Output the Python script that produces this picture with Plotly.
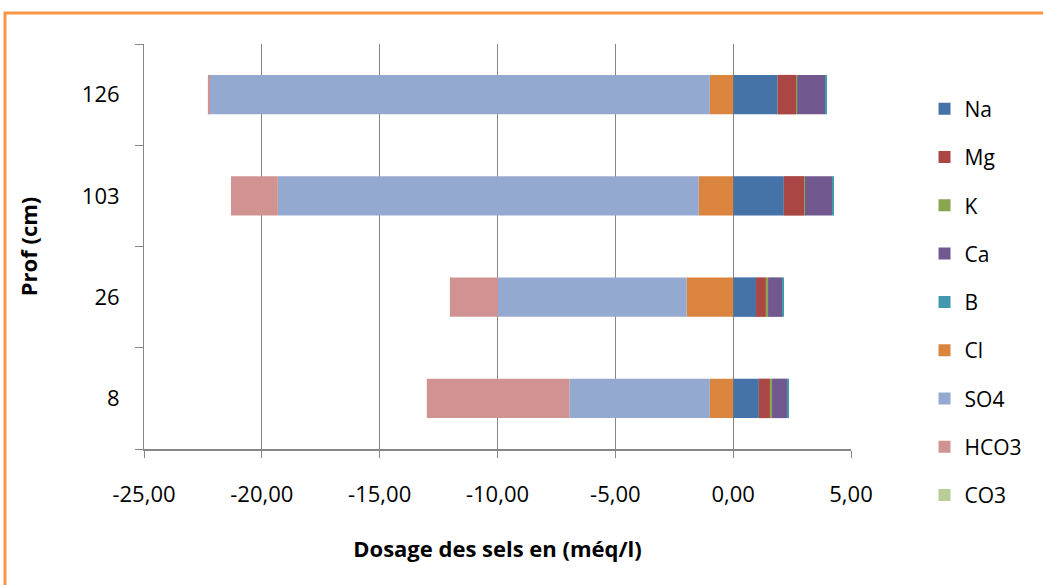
import plotly.graph_objects as go

depths = ["8", "26", "103", "126"]

Na = [1.09, 0.97, 2.15, 1.89]
Mg = [0.47, 0.42, 0.86, 0.78]
K = [0.09, 0.09, 0.04, 0.05]
Ca = [0.64, 0.60, 1.15, 1.19]
B = [0.04, 0.04, 0.04, 0.04]
Cl = [-0.99, -1.97, -1.46, -0.99]
SO4 = [-5.96, -8.01, -17.86, -21.21]
HCO3 = [-6.05, -2.04, -1.99, -0.09]
CO3 = [0.0, 0.0, 0.0, 0.0]

series_names = ["Na", "Mg", "K", "Ca", "B", "Cl", "SO4", "HCO3", "CO3"]
series_values = [Na, Mg, K, Ca, B, Cl, SO4, HCO3, CO3]
colors = ["#4572A7", "#AA4643", "#89A54E", "#71588F", "#4198AF",
          "#DB843D", "#93A9CF", "#D19392", "#B9CD96"]

x_tickvals = [-25, -20, -15, -10, -5, 0, 5]
x_ticktext = ["-25,00", "-20,00", "-15,00", "-10,00", "-5,00", "0,00", "5,00"]

FONT = "'Open Sans', Lato, sans-serif"

fig = go.Figure()
for name, vals, col in zip(series_names, series_values, colors):
    fig.add_trace(go.Bar(
        y=depths, x=vals, name=name, orientation="h",
        marker=dict(color=col, line=dict(width=0)),
        legendgroup=name,
    ))

fig.update_layout(
    barmode="relative",
    bargap=0.61,
    width=1043, height=585,
    margin=dict(l=144, r=192, t=44, b=136, autoexpand=False),
    paper_bgcolor="white", plot_bgcolor="white",
    font=dict(family=FONT, size=21, color="#000000"),
    showlegend=True,
    legend=dict(
        x=1.104, y=0.89, xanchor="left", yanchor="top",
        traceorder="grouped", tracegroupgap=18,
        font=dict(size=21, family=FONT),
        itemclick=False, maxheight=560,
    ),
    xaxis=dict(
        range=[-25, 5], tickvals=x_tickvals, ticktext=x_ticktext,
        showgrid=True, gridcolor="#868686", gridwidth=1,
        showline=True, linecolor="#868686", linewidth=2,
        ticks="outside", ticklen=7, tickcolor="#868686", tickwidth=1,
        zeroline=False,
        ticklabelstandoff=18,
        tickfont=dict(size=22),
        title=dict(text="<b>Dosage des sels en (méq/l)</b>", standoff=34,
                   font=dict(size=22, family=FONT)),
    ),
    yaxis=dict(
        type="category", categoryorder="array", categoryarray=depths,
        showgrid=False,
        showline=True, linecolor="#868686", linewidth=1,
        ticks="outside", ticklen=8, tickcolor="#868686", tickson="boundaries",
        ticklabelstandoff=19,
        tickfont=dict(size=22),
        title=dict(text="<b>Prof (cm)</b>", standoff=38,
                   font=dict(size=22, family=FONT)),
    ),
    shapes=[dict(
        type="rect", xref="paper", yref="paper",
        x0=-0.1966, x1=1.3, y0=-0.4, y1=1.0765,
        line=dict(color="#F79646", width=3), fillcolor="rgba(0,0,0,0)",
        layer="below",
    )],
)

fig.write_html("out.html", config={"displayModeBar": False},
               post_script="document.body.style.margin='0';document.body.style.padding='0';")
